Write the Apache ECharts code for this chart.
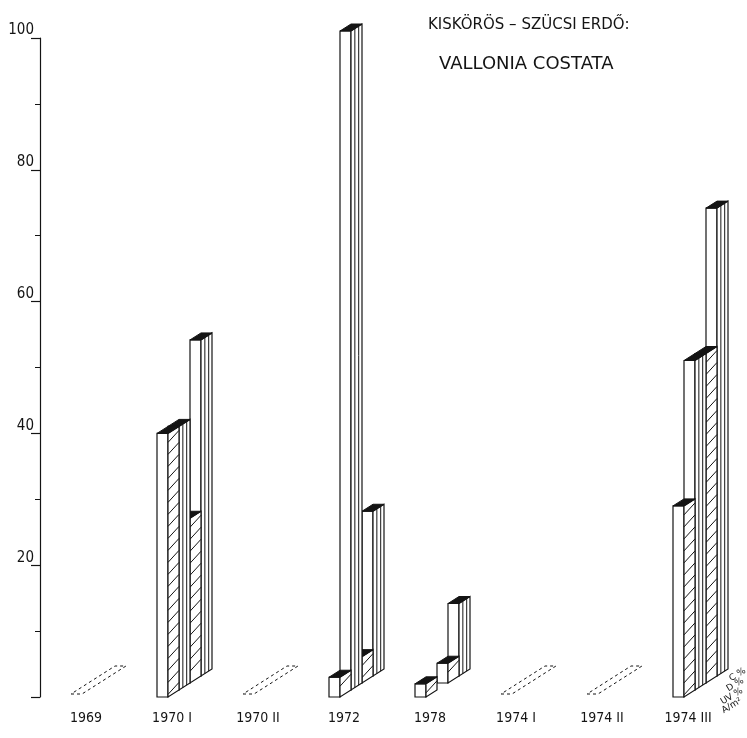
<!DOCTYPE html>
<html>
<head>
<meta charset="utf-8">
<script src="https://cdn.jsdelivr.net/npm/echarts@6/dist/echarts.min.js"></script>
<style>
html,body{margin:0;padding:0;background:#fff;}
#chart{width:747px;height:738px;}
</style>
</head>
<body>
<div id="chart"></div>
<script>
// ---- data ----
const categories = ['1969', '1970 I', '1970 II', '1972', '1978', '1974 I', '1974 II', '1974 III'];
const seriesNames = ['A/m²', 'UV %', 'D %', 'C %'];
const aPerM2 = [0, 40, 0, 3, 2, 0, 0, 29];
const uvPct  = [0, 40, 0, 100, 0, 0, 0, 50];
const dPct   = [0, 25, 0, 4, 3, 0, 0, 50];
const cPct   = [0, 51, 0, 25, 11, 0, 0, 71];
const layers = [aPerM2, uvPct, dPct, cPct];
const titleLines = ['KISKÖRÖS – SZÜCSI ERDŐ:', 'VALLONIA COSTATA'];

// ---- geometry (styles) ----
const START = -15, FW = 11, LX = 11, LY = 7;
const INK = '#141414';
const FONT = '"Liberation Sans Narrow","DejaVu Sans Condensed",sans-serif';

function boxRenderer(k) {
  const hatched = (k === 0 || k === 2);
  return function (params, api) {
    const v = api.value(1);
    if (!(v > 0)) return null;
    const i = api.value(0);
    const base = api.coord([i, 0]);
    const top = api.coord([i, v]);
    const h = base[1] - top[1];
    const x0 = base[0] + START + k * LX;
    const yB = base[1] - k * LY;
    const yT = yB - h;
    const x1 = x0 + FW, x2 = x1 + LX;
    const ch = [];
    ch.push({type: 'rect', shape: {x: x0, y: yT, width: FW, height: h},
      style: {fill: '#fff', stroke: INK, lineWidth: 1.2}});
    ch.push({type: 'polygon', shape: {points: [[x1, yT], [x2, yT - LY], [x2, yB - LY], [x1, yB]]},
      style: {fill: '#fff', stroke: INK, lineWidth: 1.2}});
    if (hatched) {
      for (let y = yT + 9; y < yB - 1; y += 12) {
        ch.push({type: 'line', shape: {x1: x1, y1: y, x2: x2, y2: y - LY - 5},
          style: {stroke: INK, lineWidth: 1}});
      }
    } else {
      [0.35, 0.7].forEach(function (f) {
        const x = x1 + LX * f;
        ch.push({type: 'line', shape: {x1: x, y1: yT - LY * f, x2: x, y2: yB - LY * f},
          style: {stroke: INK, lineWidth: 1}});
      });
    }
    ch.push({type: 'polygon', shape: {points: [[x0, yT], [x1, yT], [x2, yT - LY], [x0 + LX, yT - LY]]},
      style: {fill: INK, stroke: INK, lineWidth: 1}});
    return {type: 'group', children: ch};
  };
}

const totals = categories.map(function (c, i) {
  return layers.reduce(function (s, arr) { return s + arr[i]; }, 0);
});

const series = [];
for (let k = layers.length - 1; k >= 0; k--) {
  series.push({
    type: 'custom',
    name: seriesNames[k],
    z: 2 + (layers.length - k),
    clip: false,
    renderItem: boxRenderer(k),
    encode: {x: 0, y: 1},
    data: layers[k].map(function (v, i) { return [i, v]; })
  });
}
series.push({
  type: 'custom',
  name: 'empty',
  z: 1,
  clip: false,
  encode: {x: 0, y: 1},
  data: totals.map(function (t, i) { return [i, t]; }),
  renderItem: function (params, api) {
    if (api.value(1) > 0) return null;
    const base = api.coord([api.value(0), 0]);
    const x0 = base[0] + START, y0 = base[1] - 3;
    const n = layers.length;
    return {type: 'polygon',
      shape: {points: [[x0, y0], [x0 + FW, y0], [x0 + FW + n * LX, y0 - n * LY], [x0 + n * LX, y0 - n * LY]]},
      style: {fill: 'none', stroke: INK, lineWidth: 1, lineDash: [3, 3]}};
  }
});

const legendPos = [[741, 700], [742, 690], [743, 680], [745, 670]];
const legendText = seriesNames.map(function (name, k) {
  return {type: 'text', x: legendPos[k][0], y: legendPos[k][1], rotation: 0.55,
    style: {text: name, fontSize: 9, fontFamily: '"DejaVu Sans",sans-serif', fill: INK, align: 'right', verticalAlign: 'middle'}};
});

const chart = echarts.init(document.getElementById('chart'));
chart.setOption({
  animation: false,
  backgroundColor: '#fff',
  title: [
    {text: titleLines[0], left: 423, top: 13,
      textStyle: {fontSize: 15, fontWeight: 'normal', fontFamily: '"DejaVu Sans",sans-serif', color: INK}},
    {text: titleLines[1], left: 434, top: 50,
      textStyle: {fontSize: 18, fontWeight: 'normal', fontFamily: '"DejaVu Sans",sans-serif', color: INK}}
  ],
  grid: {left: 43, right: 16, top: 38, bottom: 41},
  xAxis: {
    type: 'category', data: categories,
    axisLine: {show: false}, axisTick: {show: false},
    axisLabel: {margin: 14, fontSize: 14, color: INK, fontFamily: FONT}
  },
  yAxis: {
    type: 'value', min: 0, max: 100, interval: 20, offset: 3,
    axisLine: {show: true, lineStyle: {color: INK, width: 1.2}},
    axisTick: {show: true, length: 9, lineStyle: {color: INK, width: 1.2}},
    minorTick: {show: true, splitNumber: 2, length: 5, lineStyle: {color: INK, width: 1}},
    splitLine: {show: false},
    axisLabel: {showMinLabel: false, fontSize: 15, color: INK, fontFamily: FONT, verticalAlign: 'bottom', margin: 6}
  },
  graphic: legendText,
  series: series
});
</script>
</body>
</html>
